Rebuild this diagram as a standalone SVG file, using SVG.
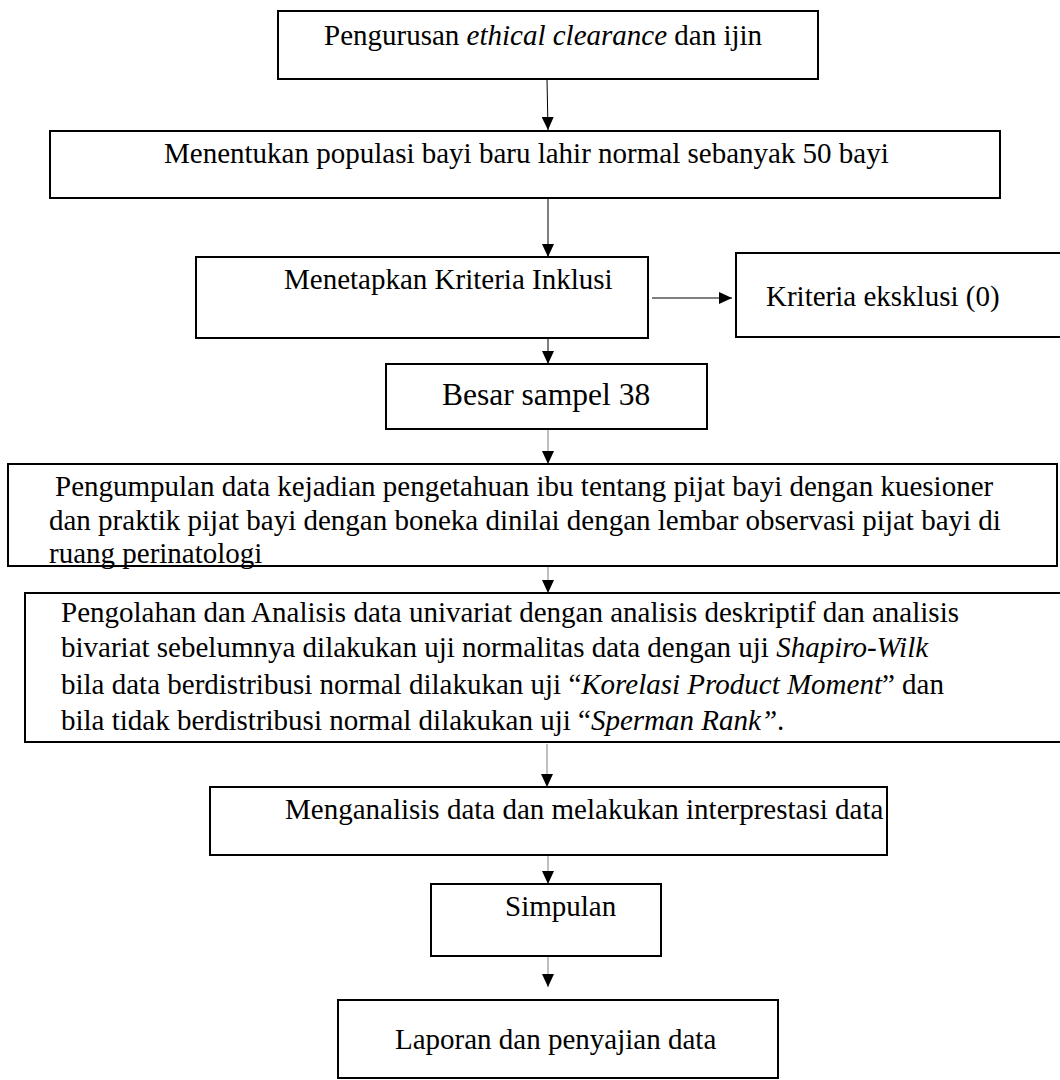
<svg xmlns="http://www.w3.org/2000/svg" width="1060" height="1080" viewBox="0 0 1060 1080">
<defs>
<style>
.box{fill:#fff;stroke:#000;stroke-width:2}
.t{font-family:"Liberation Serif","Times New Roman",serif;font-size:29px;fill:#000}
.big{font-size:31.5px}
.i{font-style:italic}
.c{stroke:#000;stroke-width:1;fill:none;marker-end:url(#ah)}
.g{stroke:#808080}
</style>
<marker id="ah" markerUnits="userSpaceOnUse" markerWidth="13" markerHeight="12" refX="13" refY="6" orient="auto">
<path d="M0,0 L13,6 L0,12 Z" fill="#000"/>
</marker>
</defs>
<rect width="1060" height="1080" fill="#fff"/>
<g id="connectors">
<line class="c" x1="547" y1="79" x2="548" y2="130"/>
<line class="c" x1="548" y1="198" x2="548" y2="257"/>
<line class="c" x1="652" y1="298" x2="732" y2="298"/>
<line class="c" x1="548" y1="338" x2="548" y2="364"/>
<line class="c g" x1="548" y1="429" x2="548" y2="464"/>
<line class="c g" x1="548" y1="566" x2="548" y2="593"/>
<line class="c g" x1="547" y1="744" x2="547" y2="787"/>
<line class="c g" x1="548" y1="856" x2="548" y2="884"/>
<line class="c g" x1="548" y1="957" x2="548" y2="987"/>
</g>
<g id="n1">
<rect class="box" x="278" y="11" width="540" height="68"/>
<text class="t" x="324" y="45">Pengurusan <tspan class="i">ethical clearance</tspan> dan ijin</text>
</g>
<g id="n2">
<rect class="box" x="50" y="131" width="950" height="67"/>
<text class="t" x="164" y="163">Menentukan populasi bayi baru lahir normal sebanyak 50 bayi</text>
</g>
<g id="n3">
<rect class="box" x="196" y="257" width="452" height="81"/>
<text class="t" x="284" y="289">Menetapkan Kriteria Inklusi</text>
</g>
<g id="n4">
<rect class="box" x="736" y="253" width="340" height="84"/>
<text class="t" x="766" y="306">Kriteria eksklusi (0)</text>
</g>
<g id="n5">
<rect class="box" x="386" y="364" width="321" height="65"/>
<text class="t big" x="442" y="405">Besar sampel 38</text>
</g>
<g id="n6">
<rect class="box" x="8" y="464" width="1049" height="102"/>
<text class="t" x="55" y="496">Pengumpulan data kejadian pengetahuan ibu tentang pijat bayi dengan kuesioner</text>
<text class="t" x="49" y="530">dan praktik pijat bayi dengan boneka dinilai dengan lembar observasi pijat bayi di</text>
<text class="t" x="49" y="563">ruang perinatologi</text>
</g>
<g id="n7">
<rect class="box" x="25" y="593" width="1060" height="149"/>
<text class="t" x="61" y="622">Pengolahan dan Analisis data univariat dengan analisis deskriptif dan analisis</text>
<text class="t" x="61" y="657">bivariat sebelumnya dilakukan uji normalitas data dengan uji <tspan class="i">Shapiro-Wilk</tspan></text>
<text class="t" x="61" y="694">bila data berdistribusi normal dilakukan uji “<tspan class="i">Korelasi Product Moment</tspan>” dan</text>
<text class="t" x="61" y="730">bila tidak berdistribusi normal dilakukan uji “<tspan class="i">Sperman Rank”</tspan>.</text>
</g>
<g id="n8">
<rect class="box" x="210" y="787" width="677" height="68"/>
<text class="t" x="285" y="819">Menganalisis data dan melakukan interprestasi data</text>
</g>
<g id="n9">
<rect class="box" x="431" y="884" width="230" height="72"/>
<text class="t" x="505" y="916">Simpulan</text>
</g>
<g id="n10">
<rect class="box" x="338" y="1000" width="440" height="78"/>
<text class="t" x="395" y="1049">Laporan dan penyajian data</text>
</g>
</svg>
